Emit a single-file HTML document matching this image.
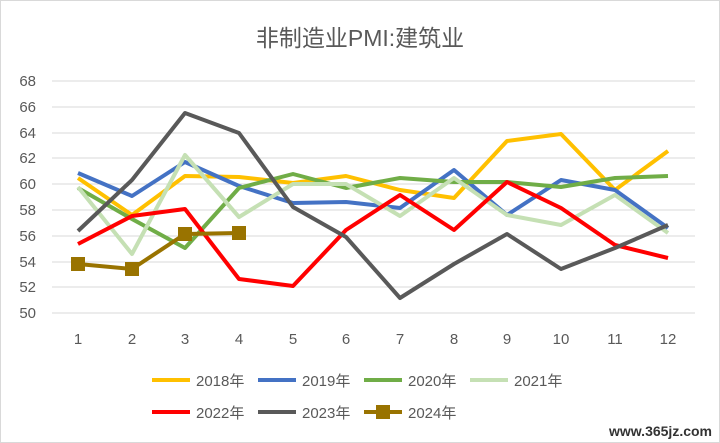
<!DOCTYPE html>
<html><head><meta charset="utf-8"><style>
body{margin:0;background:#fff}
svg{display:block;font-family:"Liberation Sans","Noto Sans CJK SC",sans-serif}
</style></head><body>
<svg width="720" height="443" viewBox="0 0 720 443">
<rect x="0.5" y="0.5" width="719" height="442" fill="#fff" stroke="#d9d9d9"/>
<text x="360" y="46" text-anchor="middle" font-size="23" fill="#595959">非制造业PMI:建筑业</text>
<g stroke="#d9d9d9" stroke-width="1">
<line x1="52" x2="695" y1="81" y2="81"/><line x1="52" x2="695" y1="107" y2="107"/>
<line x1="52" x2="695" y1="133" y2="133"/><line x1="52" x2="695" y1="158" y2="158"/>
<line x1="52" x2="695" y1="184" y2="184"/><line x1="52" x2="695" y1="210" y2="210"/>
<line x1="52" x2="695" y1="236" y2="236"/><line x1="52" x2="695" y1="262" y2="262"/>
<line x1="52" x2="695" y1="287" y2="287"/><line x1="52" x2="695" y1="313" y2="313"/>
</g>
<g font-size="15" fill="#595959" text-anchor="end">
<text x="36" y="86">68</text><text x="36" y="112">66</text><text x="36" y="138">64</text>
<text x="36" y="163">62</text><text x="36" y="189">60</text><text x="36" y="215">58</text>
<text x="36" y="241">56</text><text x="36" y="267">54</text><text x="36" y="292">52</text>
<text x="36" y="318">50</text>
</g>
<g font-size="15" fill="#595959" text-anchor="middle">
<text x="78" y="344">1</text><text x="132" y="344">2</text><text x="185" y="344">3</text>
<text x="239" y="344">4</text><text x="293" y="344">5</text><text x="346" y="344">6</text>
<text x="400" y="344">7</text><text x="454" y="344">8</text><text x="507" y="344">9</text>
<text x="561" y="344">10</text><text x="615" y="344">11</text><text x="668" y="344">12</text>
</g>
<g fill="none" stroke-width="4" stroke-linejoin="round">
<polyline stroke="#FFC000" points="78,178 132,215 185,176 239,177 293,183 346,176 400,190 454,198 507,141 561,134 615,190 668,151"/>
<polyline stroke="#4472C4" points="78,173 132,196 185,162 239,186 293,203 346,202 400,208 454,170 507,215 561,180 615,190 668,228"/>
<polyline stroke="#70AD47" points="78,188 132,219 185,248 239,188 293,174 346,188 400,178 454,182 507,182 561,187 615,178 668,176"/>
<polyline stroke="#C5E0B4" points="78,187 132,254 185,155 239,217 293,184 346,184 400,216 454,178 507,215 561,225 615,195 668,233"/>
<polyline stroke="#FF0000" points="78,244 132,216 185,209 239,279 293,286 346,230 400,195 454,230 507,182 561,208 615,245 668,258"/>
<polyline stroke="#595959" points="78,231 132,180 185,113 239,133 293,207 346,237 400,298 454,264 507,234 561,269 615,248 668,225"/>
<polyline stroke="#997300" points="78,264 132,269 185,234 239,233"/>
</g>
<g fill="#997300"><rect x="71" y="257" width="14" height="14"/><rect x="125" y="262" width="14" height="14"/><rect x="178" y="227" width="14" height="14"/><rect x="232" y="226" width="14" height="14"/></g>
<g font-size="15" fill="#595959">
<line x1="152" x2="190" y1="380" y2="380" stroke="#FFC000" stroke-width="4"/><text x="196" y="386">2018年</text>
<line x1="258" x2="296" y1="380" y2="380" stroke="#4472C4" stroke-width="4"/><text x="302" y="386">2019年</text>
<line x1="364" x2="402" y1="380" y2="380" stroke="#70AD47" stroke-width="4"/><text x="408" y="386">2020年</text>
<line x1="470" x2="508" y1="380" y2="380" stroke="#C5E0B4" stroke-width="4"/><text x="514" y="386">2021年</text>
<line x1="152" x2="190" y1="412" y2="412" stroke="#FF0000" stroke-width="4"/><text x="196" y="418">2022年</text>
<line x1="258" x2="296" y1="412" y2="412" stroke="#595959" stroke-width="4"/><text x="302" y="418">2023年</text>
<line x1="364" x2="402" y1="412" y2="412" stroke="#997300" stroke-width="4"/><rect x="376" y="405" width="14" height="14" fill="#997300"/><text x="408" y="418">2024年</text>
</g>
<text x="712" y="436" text-anchor="end" font-size="14" font-weight="bold" fill="#333">www.365jz.com</text>
</svg>
</body></html>
